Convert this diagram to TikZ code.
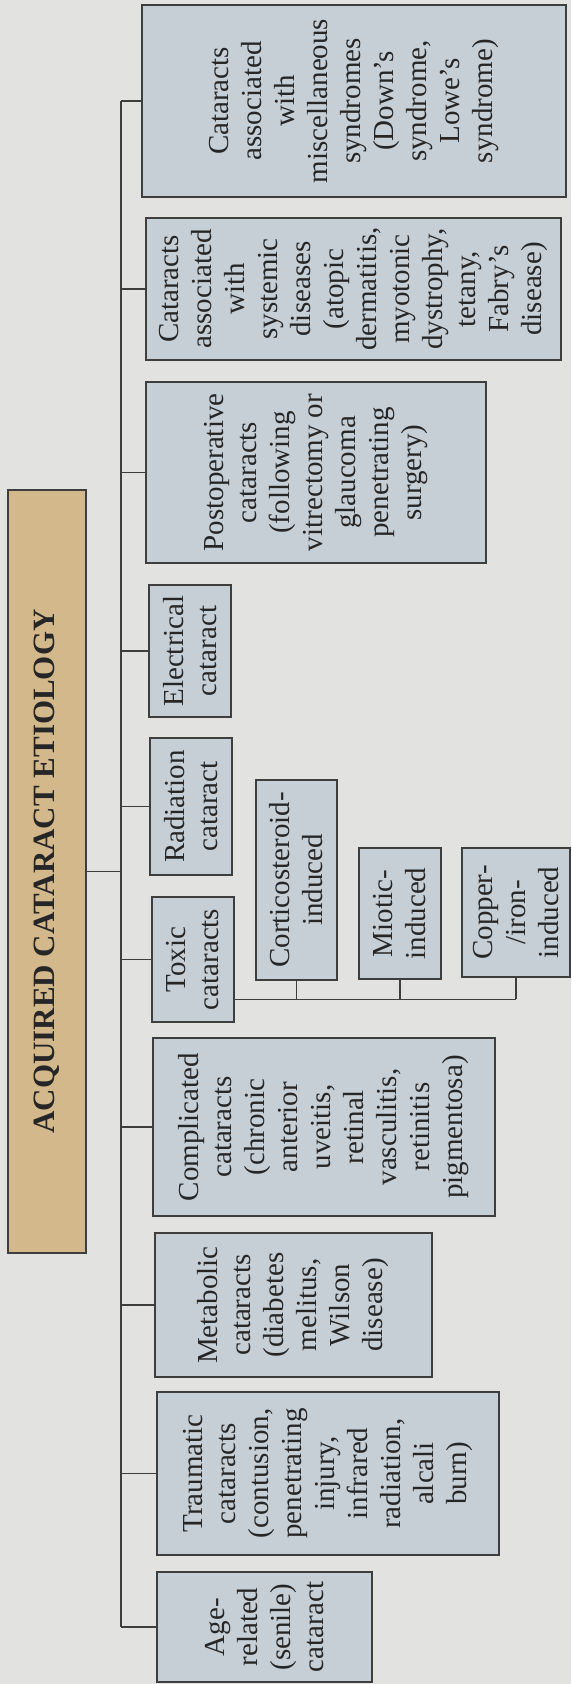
\documentclass[tikz,border=0pt]{standalone}
\usepackage{fontspec}
\setmainfont{Liberation Serif}
\usepackage{xcolor}
\usepackage{tikz}
\usetikzlibrary{calc}
\definecolor{pagegray}{RGB}{226,227,224}
\definecolor{boxblue}{RGB}{198,207,214}
\definecolor{titletan}{RGB}{211,184,139}
\definecolor{inkgray}{RGB}{62,62,62}

\begin{document}
\begin{tikzpicture}[x=1pt, y=-1pt,
		cause/.style={draw=inkgray, line width=1.4pt, fill=boxblue, rotate=90, align=center,
			inner sep=2pt, text=black!85, font=\fontsize{29}{33}\selectfont},
		link/.style={draw=inkgray, line width=1.4pt}]
		\fill[pagegray] (0, 0) rectangle (571, 1684);
		\useasboundingbox (0, 0) rectangle (571, 1684);

		\node[cause, fill=titletan, minimum width=763pt, minimum height=78pt,
			font=\fontsize{31}{33}\selectfont\bfseries] at (47, 871.5) (title) {ACQUIRED CATARACT ETIOLOGY};

		\node[cause, minimum width=192pt, minimum height=424pt] at (354, 101) (misc) {Cataracts\\associated\\with\\miscellaneous\\syndromes\\(Down’s\\syndrome,\\Lowe’s\\syndrome)};
		\node[cause, minimum width=142pt, minimum height=415pt] at (353.5, 289) (systemic) {Cataracts\\associated\\with\\systemic\\diseases\\(atopic\\dermatitis,\\myotonic\\dystrophy,\\tetany,\\Fabry’s\\disease)};
		\node[cause, minimum width=181pt, minimum height=340pt] at (316, 472.5) (postop) {Postoperative\\cataracts\\(following\\vitrectomy or\\glaucoma\\penetrating\\surgery)};
		\node[cause, minimum width=132pt, minimum height=82pt] at (190, 651) (electrical) {Electrical\\cataract};
		\node[cause, minimum width=137pt, minimum height=82pt] at (191, 806.5) (radiation) {Radiation\\cataract};
		\node[cause, minimum width=125pt, minimum height=82pt] at (193, 959.5) (toxic) {Toxic\\cataracts};

		\node[cause, minimum width=200pt, minimum height=81pt] at (296.5, 880) (cortico) {Corticosteroid-\\induced};
		\node[cause, minimum width=131pt, minimum height=82pt] at (400, 913.5) (miotic) {Miotic-\\induced};
		\node[cause, minimum width=129pt, minimum height=108pt] at (516, 912.5) (copper) {Copper-\\/iron-\\induced};

		\node[cause, minimum width=178pt, minimum height=342pt] at (324, 1127) (complicated) {Complicated\\cataracts\\(chronic\\anterior\\uveitis,\\retinal\\vasculitis,\\retinitis\\pigmentosa)};
		\node[cause, minimum width=144pt, minimum height=277pt] at (293.5, 1305) (metabolic) {Metabolic\\cataracts\\(diabetes\\melitus,\\Wilson\\disease)};
		\node[cause, minimum width=163pt, minimum height=342pt] at (328, 1473.5) (traumatic) {Traumatic\\cataracts\\(contusion,\\penetrating\\injury,\\infrared\\radiation,\\alcali\\burn)};
		\node[cause, minimum width=110pt, minimum height=215pt] at (264.5, 1627) (age) {Age-\\related\\(senile)\\cataract};

		\coordinate (trunk) at (121, 0);
		\draw[link] (misc.north -| trunk) -- (age.north -| trunk);
		\draw[link] (title.south) -- (title.south -| trunk);
		\foreach \n in {misc, systemic, postop, electrical, radiation, toxic, complicated, metabolic, traumatic, age}
			\draw[link] (\n.north -| trunk) -- (\n.north);

		\coordinate (toxbus) at ($(toxic.south)!0.63!(toxic.south west)$);
		\draw[link] (toxbus) -- (toxbus -| copper.west);
		\foreach \n in {cortico, miotic, copper}
			\draw[link] (\n.west) -- (\n.west |- toxbus);
	\end{tikzpicture}
\end{document}
